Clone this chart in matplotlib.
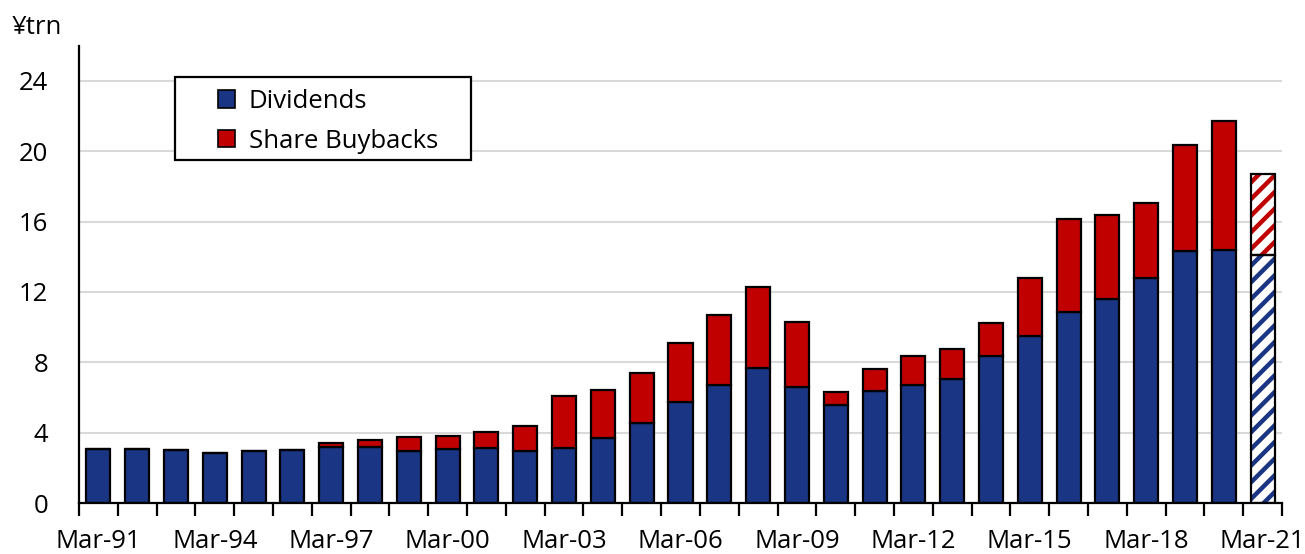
import matplotlib.pyplot as plt
from matplotlib.patches import Rectangle, Patch
import numpy as np

# Japanese corporate shareholder returns, fiscal years ending March
years = ["Mar-%02d" % (y % 100) for y in range(1991, 2022)]
dividends = [3.05, 3.08, 3.00, 2.85, 2.97, 2.99, 3.16, 3.19, 2.97, 3.07,
             3.13, 2.96, 3.13, 3.70, 4.53, 5.74, 6.70, 7.65, 6.57, 5.58,
             6.35, 6.69, 7.06, 8.37, 9.47, 10.88, 11.60, 12.79, 14.33, 14.39,
             14.08]
totals = [3.05, 3.08, 3.00, 2.85, 2.97, 2.99, 3.42, 3.59, 3.74, 3.81,
          4.02, 4.40, 6.06, 6.44, 7.37, 9.07, 10.69, 12.28, 10.30, 6.32,
          7.63, 8.35, 8.76, 10.26, 12.81, 16.15, 16.39, 17.08, 20.36, 21.70,
          18.71]
buybacks = [t - d for t, d in zip(totals, dividends)]
n_forecast = 1  # last bar is an estimate (hatched)

BLUE = "#1a3583"
RED = "#c00000"
FS = 18.5

plt.rcParams['font.family'] = ['Open Sans', 'DejaVu Sans']
plt.rcParams['hatch.linewidth'] = 3.2

fig = plt.figure(figsize=(13.05, 5.54), dpi=100)
ax = fig.add_axes([0.0605, 0.092, 0.9219, 0.8255])

x = np.arange(len(years))
div = np.array(dividends)
bb = np.array(buybacks)
w = 0.62
act = slice(0, len(years) - n_forecast)
fc = slice(len(years) - n_forecast, len(years))

ax.bar(x[act], div[act], w, color=BLUE, edgecolor="black", linewidth=1.6, zorder=3)
ax.bar(x[act], bb[act], w, bottom=div[act], color=RED, edgecolor="black", linewidth=1.6, zorder=3)
# estimate bar: hatched fill, then black outline on top
ax.bar(x[fc], div[fc], w, color="white", edgecolor=BLUE, hatch="//", linewidth=0, zorder=3)
ax.bar(x[fc], bb[fc], w, bottom=div[fc], color="white", edgecolor=RED, hatch="//", linewidth=0, zorder=3)
ax.bar(x[fc], div[fc], w, color="none", edgecolor="black", linewidth=1.6, zorder=4)
ax.bar(x[fc], bb[fc], w, bottom=div[fc], color="none", edgecolor="black", linewidth=1.6, zorder=4)

ax.set_xlim(-0.5, len(years) - 0.5)
ax.set_ylim(0, 26)
ax.set_yticks(np.arange(0, 25, 4))
ax.tick_params(axis="y", length=0, pad=22, labelsize=FS)
ax.yaxis.grid(True, color="#d9d9d9", linewidth=1.5, zorder=0)
ax.set_axisbelow(True)

ax.set_xticks(x[::3])
ax.set_xticklabels(years[::3])
ax.set_xticks(np.arange(-0.5, len(years), 1), minor=True)
ax.tick_params(axis="x", which="major", length=0, pad=19, labelsize=FS)
ax.tick_params(axis="x", which="minor", length=9, width=1.6, direction="out")

for s in ["top", "right"]:
    ax.spines[s].set_visible(False)
for s in ["left", "bottom"]:
    ax.spines[s].set_linewidth(1.6)
    ax.spines[s].set_zorder(5)

handles = [Patch(facecolor=BLUE, edgecolor="black", linewidth=1.2),
           Patch(facecolor=RED, edgecolor="black", linewidth=1.2)]
leg = ax.legend(handles, ["Dividends", "Share Buybacks"], loc="upper left",
                bbox_to_anchor=(0.1155, 0.905), frameon=False, fontsize=FS,
                handlelength=0.66, handleheight=0.66, handletextpad=0.55,
                labelspacing=0.56, borderaxespad=0, borderpad=0)
ax.add_patch(Rectangle((0.0798, 0.750), 0.2461, 0.1816, transform=ax.transAxes,
                       facecolor="white", edgecolor="black", linewidth=1.6,
                       zorder=6, clip_on=False))
leg.set_zorder(7)

fig.text(0.009, 0.951, "¥trn", fontsize=FS, va="center", ha="left")

fig.savefig("out.png", dpi=100)
